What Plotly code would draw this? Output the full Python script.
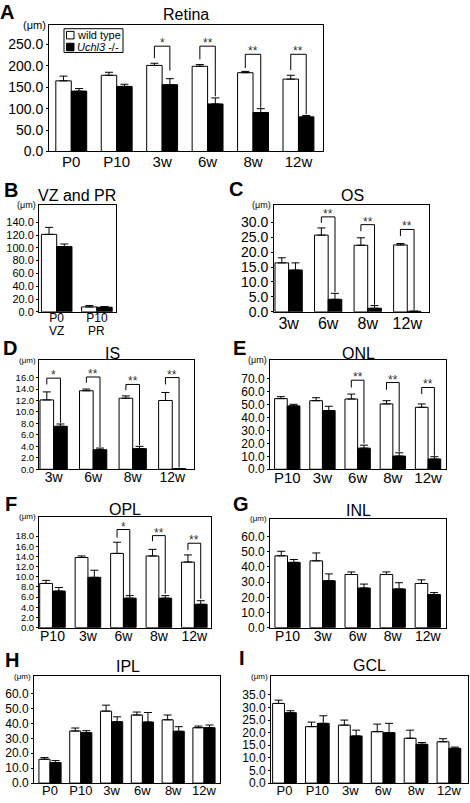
import plotly.graph_objects as go

W, H = 470, 803
FONT = "Liberation Sans, Arial, Helvetica, sans-serif"

# ---------------- data ----------------
# A  Retina
a_cats = ["P0", "P10", "3w", "6w", "8w", "12w"]
a_wt = [165, 178, 201, 199, 184, 169]
a_wt_err = [11, 7, 5, 4, 3, 9]
a_ko = [141, 152, 156, 111, 91, 81]
a_ko_err = [6, 5, 14, 14, 9, 3]
a_sig_idx = [2, 3, 4, 5]
a_sig_txt = ["*", "**", "**", "**"]
a_sig_top = [246, 246, 227, 227]
a_sig_left = [218, 215, 195, 190]
a_sig_right = [189, 129, 102, 87]
a_yticks = [0, 50, 100, 150, 200, 250]

# B  VZ and PR
b_cats = ["P0", "P10"]
b_sub = ["VZ", "PR"]
b_wt = [121, 7.7]
b_wt_err = [11, 2.1]
b_ko = [102, 7.2]
b_ko_err = [4, 1.0]
b_yticks = [0, 20, 40, 60, 80, 100, 120, 140]

# C  OS
c_cats = ["3w", "6w", "8w", "12w"]
c_wt = [16.4, 25.7, 22.3, 22.4]
c_wt_err = [1.7, 2.4, 2.5, 0.5]
c_ko = [14.0, 4.2, 1.2, 0.2]
c_ko_err = [2.4, 2.0, 0.9, 0.0]
c_sig_idx = [1, 2, 3]
c_sig_txt = ["**", "**", "**"]
c_sig_top = [31.8, 29.2, 27.6]
c_sig_left = [29.8, 27.0, 25.4]
c_sig_right = [6.6, 2.4, 0.5]
c_yticks = [0, 5, 10, 15, 20, 25, 30]

# D  IS
d_cats = ["3w", "6w", "8w", "12w"]
d_wt = [12.1, 13.7, 12.4, 12.0]
d_wt_err = [1.4, 0.3, 0.4, 1.4]
d_ko = [7.5, 3.4, 3.6, 0.1]
d_ko_err = [0.4, 0.3, 0.4, 0.0]
d_sig_idx = [0, 1, 2, 3]
d_sig_txt = ["*", "**", "**", "**"]
d_sig_top = [15.9, 16.1, 14.8, 16.0]
d_sig_left = [14.8, 15.1, 13.8, 14.8]
d_sig_right = [8.1, 3.9, 4.2, 0.3]
d_yticks = [0, 2, 4, 6, 8, 10, 12, 14, 16]

# E  ONL
e_cats = ["P10", "3w", "6w", "8w", "12w"]
e_wt = [54.5, 52.9, 54.2, 50.4, 47.8]
e_wt_err = [1.5, 2.3, 3.8, 2.5, 2.6]
e_ko = [48.9, 45.3, 16.3, 10.2, 7.9]
e_ko_err = [1.2, 3.3, 2.3, 2.5, 1.8]
e_sig_idx = [2, 3, 4]
e_sig_txt = ["**", "**", "**"]
e_sig_top = [68.7, 66.9, 63.1]
e_sig_left = [63.1, 61.3, 58.0]
e_sig_right = [19.8, 13.5, 10.4]
e_yticks = [0, 10, 20, 30, 40, 50, 60, 70]

# F  OPL
f_cats = ["P10", "3w", "6w", "8w", "12w"]
f_wt = [8.7, 13.8, 14.6, 14.1, 12.9]
f_wt_err = [0.6, 0.3, 2.2, 1.3, 1.4]
f_ko = [7.2, 9.9, 5.8, 5.8, 4.6]
f_ko_err = [0.7, 1.4, 0.5, 0.5, 0.7]
f_sig_idx = [2, 3, 4]
f_sig_txt = ["*", "**", "**"]
f_sig_top = [19.3, 18.1, 16.6]
f_sig_left = [17.7, 17.0, 15.3]
f_sig_right = [6.3, 6.7, 5.7]
f_yticks = [0, 2, 4, 6, 8, 10, 12, 14, 16, 18]

# G  INL
g_cats = ["P10", "3w", "6w", "8w", "12w"]
g_wt = [47.3, 44.0, 35.0, 35.0, 29.1]
g_wt_err = [3.0, 5.2, 1.7, 1.7, 2.4]
g_ko = [43.0, 30.9, 26.1, 25.5, 21.8]
g_ko_err = [1.9, 4.5, 2.6, 4.1, 1.3]
g_yticks = [0, 10, 20, 30, 40, 50, 60]

# H  IPL
h_cats = ["P0", "P10", "3w", "6w", "8w", "12w"]
h_wt = [16.0, 34.9, 48.2, 45.6, 42.4, 37.1]
h_wt_err = [1.1, 2.0, 4.0, 2.0, 3.2, 1.1]
h_ko = [13.8, 33.8, 41.1, 40.9, 34.7, 37.1]
h_ko_err = [1.3, 1.3, 3.3, 6.4, 3.1, 1.8]
h_yticks = [0, 10, 20, 30, 40, 50, 60]

# I  GCL
i_cats = ["P0", "P10", "3w", "6w", "8w", "12w"]
i_wt = [31.6, 22.4, 23.0, 20.4, 17.8, 16.4]
i_wt_err = [1.3, 1.8, 2.0, 3.0, 3.2, 1.2]
i_ko = [27.9, 23.7, 18.7, 20.0, 15.4, 13.8]
i_ko_err = [0.8, 3.0, 2.3, 3.7, 0.7, 0.5]
i_yticks = [0, 5, 10, 15, 20, 25, 30, 35]

series_names = ["wild type", "<i>Uchl3</i> -/-"]
series_fill = ["white", "black"]

# ---------------- layout config (pixels) ----------------
panels = [
    dict(letter="A", title="Retina", cats=a_cats, wt=a_wt, wte=a_wt_err, ko=a_ko, koe=a_ko_err,
         sig=(a_sig_idx, a_sig_txt, a_sig_top, a_sig_left, a_sig_right), yt=a_yticks,
         box=(49, 25, 323, 153), ymax=296, xr=(-0.49, 5.54), w=0.34, yf=14, xf=15, so=-3,
         tpos=(186, 15), lpos=(7, 12), umf=11),
    dict(letter="B", title="VZ and PR", cats=b_cats, wt=b_wt, wte=b_wt_err, ko=b_ko, koe=b_ko_err,
         sig=None, yt=b_yticks,
         box=(39, 207, 116, 315), ymax=167, xr=(-0.44, 1.475), w=0.38, yf=11, xf=12, so=-5,
         tpos=(77, 197), lpos=(10.5, 191.5), umf=9),
    dict(letter="C", title="OS", cats=c_cats, wt=c_wt, wte=c_wt_err, ko=c_ko, koe=c_ko_err,
         sig=(c_sig_idx, c_sig_txt, c_sig_top, c_sig_left, c_sig_right), yt=c_yticks,
         box=(274, 207, 429, 315), ymax=35.8, xr=(-0.37, 3.55), w=0.345, yf=14, xf=16, so=-3,
         tpos=(352, 197.5), lpos=(236, 191), umf=9),
    dict(letter="D", title="IS", cats=d_cats, wt=d_wt, wte=d_wt_err, ko=d_ko, koe=d_ko_err,
         sig=(d_sig_idx, d_sig_txt, d_sig_top, d_sig_left, d_sig_right), yt=d_yticks,
         box=(39, 364, 194, 474), ymax=19.0, xr=(-0.37, 3.55), w=0.345, yf=9.5, xf=14, so=-5,
         tpos=(112, 357), lpos=(9.5, 351.5), umf=8),
    dict(letter="E", title="ONL", cats=e_cats, wt=e_wt, wte=e_wt_err, ko=e_ko, koe=e_ko_err,
         sig=(e_sig_idx, e_sig_txt, e_sig_top, e_sig_left, e_sig_right), yt=e_yticks,
         box=(270, 364, 446, 474), ymax=84, xr=(-0.49, 4.51), w=0.36, yf=12, xf=15, so=-5,
         tpos=(358, 357), lpos=(240, 351), umf=9),
    dict(letter="F", title="OPL", cats=f_cats, wt=f_wt, wte=f_wt_err, ko=f_ko, koe=f_ko_err,
         sig=(f_sig_idx, f_sig_txt, f_sig_top, f_sig_left, f_sig_right), yt=f_yticks,
         box=(39, 522, 211, 634), ymax=21.8, xr=(-0.38, 4.47), w=0.36, yf=9.5, xf=14, so=-4,
         tpos=(125, 514.5), lpos=(11, 509), umf=8),
    dict(letter="G", title="INL", cats=g_cats, wt=g_wt, wte=g_wt_err, ko=g_ko, koe=g_ko_err,
         sig=None, yt=g_yticks,
         box=(270, 524, 446, 634), ymax=71.7, xr=(-0.5, 4.52), w=0.36, yf=12, xf=14, so=-4,
         tpos=(358, 516), lpos=(241, 509), umf=8),
    dict(letter="H", title="IPL", cats=h_cats, wt=h_wt, wte=h_wt_err, ko=h_ko, koe=h_ko_err,
         sig=None, yt=h_yticks,
         box=(34, 683, 220, 791), ymax=71.6, xr=(-0.52, 5.52), w=0.36, yf=12, xf=13, so=-5,
         tpos=(128, 673), lpos=(11.5, 666.5), umf=8),
    dict(letter="I", title="GCL", cats=i_cats, wt=i_wt, wte=i_wt_err, ko=i_ko, koe=i_ko_err,
         sig=None, yt=i_yticks,
         box=(271, 683, 468, 791), ymax=42.4, xr=(-0.41, 5.58), w=0.36, yf=12, xf=13, so=-5,
         tpos=(369, 672.5), lpos=(242, 664.5), umf=8),
]

fig = go.Figure()
annotations = []
shapes = []
layout_axes = {}

for k, p in enumerate(panels):
    n = len(p["cats"])
    idx = "" if k == 0 else str(k + 1)
    xa, ya = "x" + idx, "y" + idx
    x0, y0, x1, y1 = p["box"]
    w = p["w"]
    pos = list(range(n))

    for s, (vals, errs, off) in enumerate([(p["wt"], p["wte"], -w), (p["ko"], p["koe"], 0)]):
        fig.add_trace(go.Bar(
            x=pos, y=vals, width=w, offset=off, xaxis=xa, yaxis=ya,
            name=series_names[s], showlegend=False,
            marker=dict(color=series_fill[s], line=dict(color="black", width=1)),
            error_y=dict(type="data", symmetric=False, array=errs, arrayminus=[0] * n,
                         color="black", thickness=1, width=4),
            hoverinfo="skip"))

    if p["sig"] is not None:
        s_idx, s_txt, s_top, s_left, s_right = p["sig"]
        bx, by = [], []
        for j in range(len(s_idx)):
            xl = s_idx[j] - w / 2
            xr = s_idx[j] + w / 2
            bx += [xl, xl, xr, xr, None]
            by += [s_left[j], s_top[j], s_top[j], s_right[j], None]
            annotations.append(dict(
                x=s_idx[j], y=s_top[j], xref=xa, yref=ya, text=s_txt[j], showarrow=False,
                yanchor="bottom", yshift=-6, font=dict(size=12, color="#333", family=FONT)))
        fig.add_trace(go.Scatter(x=bx, y=by, xaxis=xa, yaxis=ya, mode="lines",
                                 line=dict(color="black", width=1), showlegend=False,
                                 hoverinfo="skip"))

    layout_axes["xaxis" + idx] = dict(
        domain=[x0 / W, x1 / W], range=list(p["xr"]), anchor=ya,
        tickmode="array", tickvals=pos, ticktext=p["cats"], ticks="", ticklen=0,
        ticklabelstandoff=p["so"],
        showline=True, linecolor="black", linewidth=1, mirror=True,
        showgrid=False, zeroline=False, fixedrange=True,
        tickfont=dict(size=p["xf"], color="black", family=FONT))
    layout_axes["yaxis" + idx] = dict(
        domain=[1 - y1 / H, 1 - y0 / H], range=[0, p["ymax"]], anchor=xa,
        tickmode="array", tickvals=p["yt"], ticktext=[f"{v:.1f}" for v in p["yt"]],
        ticks="outside", ticklen=2, tickwidth=1, tickcolor="black",
        showline=True, linecolor="black", linewidth=1, mirror=True,
        showgrid=False, zeroline=False, fixedrange=True,
        tickfont=dict(size=p["yf"], color="black", family=FONT))

    # panel letter
    annotations.append(dict(x=p["lpos"][0] / W, y=1 - p["lpos"][1] / H, xref="paper", yref="paper",
                            text="<b>" + p["letter"] + "</b>", showarrow=False,
                            xanchor="center", yanchor="middle",
                            font=dict(size=20, color="black", family=FONT)))
    # title
    annotations.append(dict(x=p["tpos"][0] / W, y=1 - p["tpos"][1] / H, xref="paper", yref="paper",
                            text=p["title"], showarrow=False, xanchor="center", yanchor="middle",
                            font=dict(size=16, color="black", family=FONT)))
    # unit label
    annotations.append(dict(x=(x0 - 1) / W, y=1 - y0 / H, xref="paper", yref="paper",
                            text="(\u03bcm)", showarrow=False, xanchor="right", yanchor="middle",
                            font=dict(size=p["umf"], color="black", family=FONT)))

    # second line of B category labels
    if p["letter"] == "B":
        for j, t in enumerate(b_sub):
            annotations.append(dict(x=j, y=1 - 334.5 / H, xref=xa, yref="paper", text=t,
                                    showarrow=False, xanchor="center", yanchor="middle",
                                    font=dict(size=p["xf"], color="black", family=FONT)))

# legend box for panel A (drawn as layout decoration)
lg_x0, lg_y0, lg_x1, lg_y1 = 64, 29, 123, 53
shapes.append(dict(type="rect", xref="paper", yref="paper",
                   x0=lg_x0 / W, x1=lg_x1 / W, y0=1 - lg_y1 / H, y1=1 - lg_y0 / H,
                   line=dict(color="black", width=1), fillcolor="white", layer="above"))
for s in range(2):
    cy = 35.5 + 12 * s
    shapes.append(dict(type="rect", xref="paper", yref="paper",
                       x0=66.5 / W, x1=74 / W, y0=1 - (cy + 3.8) / H, y1=1 - (cy - 3.8) / H,
                       line=dict(color="black", width=1), fillcolor=series_fill[s], layer="above"))
    annotations.append(dict(x=75 / W, y=1 - cy / H, xref="paper", yref="paper",
                            text=series_names[s], showarrow=False, xanchor="left", yanchor="middle",
                            font=dict(size=11, color="black", family=FONT)))

fig.update_layout(
    width=W, height=H, margin=dict(l=0, r=0, t=0, b=0),
    paper_bgcolor="white", plot_bgcolor="white",
    font=dict(family=FONT, color="black"),
    barmode="overlay", showlegend=False,
    annotations=annotations, shapes=shapes,
    **layout_axes,
)

fig.write_html("out.html", config={"displayModeBar": False},
               post_script="document.body.style.margin='0';document.body.style.overflow='hidden';")
